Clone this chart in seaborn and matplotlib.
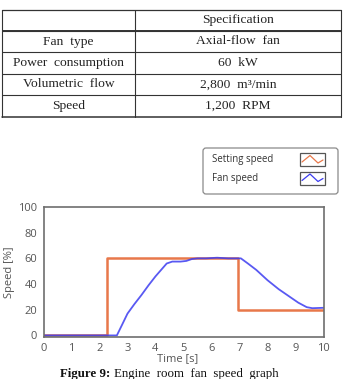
import numpy as np
import pandas as pd
import matplotlib
matplotlib.use("Agg")
import matplotlib.pyplot as plt
import seaborn as sns
from matplotlib.patches import FancyBboxPatch, Rectangle

# Table contents
TABLE_HEADER = "Specification"
TABLE_LABELS = ["Fan  type", "Power  consumption", "Volumetric  flow", "Speed"]
TABLE_VALUES = ["Axial-flow  fan", "60  kW", "2,800  m\u00b3/min", "1,200  RPM"]

# Setting speed (step profile)
SET_T = [0, 2.26, 2.26, 6.94, 6.94, 10]
SET_V = [0, 0, 60, 60, 20, 20]

# Measured fan speed
FAN_T = [0, 2.62, 2.8, 3.0, 3.25, 3.5, 3.75, 4.0, 4.2, 4.4, 4.6, 4.9, 5.1, 5.3,
         5.5, 5.8, 6.2, 6.6, 7.05, 7.3, 7.6, 8.0, 8.4, 8.8, 9.1, 9.4, 9.6, 10]
FAN_V = [0, 0, 8, 17, 24.5, 31.5, 39, 46, 51, 56, 57.5, 57.5, 58, 59.5,
         60, 60, 60.5, 60, 60, 56, 51, 43, 36, 30, 25.5, 22, 21.2, 21.5]

LEGEND_LABELS = ["Setting speed", "Fan speed"]
ORANGE = "#E8784A"
BLUE = "#3C3CF0"
GRAY = "#6e6e6e"

W, H = 343, 379
sns.set_style("white")
fig = plt.figure(figsize=(W / 100, H / 100), dpi=100)

# overlay in pixel coordinates for table, legend and caption
ov = fig.add_axes([0, 0, 1, 1])
ov.set_xlim(0, W)
ov.set_ylim(H, 0)
ov.axis("off")

serif = "Liberation Serif"
row_y = [9.5, 31, 52, 73.5, 95, 117]
xl, xm, xr = 2, 135, 341
ov.plot([xl, xr], [row_y[0], row_y[0]], color="#333333", lw=0.9)
ov.plot([xl, xr], [29.5, 29.5], color="#333333", lw=0.7)
for y in row_y[1:-1]:
    ov.plot([xl, xr], [y, y], color="#333333", lw=0.8)
ov.plot([xl, xr], [row_y[-1], row_y[-1]], color="#333333", lw=1.1)
for x in (xl, xm, xr):
    ov.plot([x, x], [row_y[0], row_y[-1]], color="#333333", lw=0.8)

ov.text((xm + xr) / 2, (row_y[0] + 29.5) / 2 + 0.5, TABLE_HEADER, ha="center",
        va="center", family=serif, fontsize=9.7, color="#222222")
for i, (lab, val) in enumerate(zip(TABLE_LABELS, TABLE_VALUES)):
    yc = (row_y[i + 1] + row_y[i + 2]) / 2
    ov.text((xl + xm) / 2, yc, lab, ha="center", va="center",
            family=serif, fontsize=9.7, color="#222222")
    ov.text((xm + xr) / 2, yc, val, ha="center", va="center",
            family=serif, fontsize=9.7, color="#222222")

# legend box drawn by hand (LabVIEW style)
ov.add_patch(FancyBboxPatch((203, 148), 135, 46, boxstyle="round,pad=0,rounding_size=3",
                            fc="white", ec="#8a8a8a", lw=0.9))
for i, (lab, col) in enumerate(zip(LEGEND_LABELS, [ORANGE, BLUE])):
    yc = 159.5 + i * 18.5
    ov.text(212, yc, lab, ha="left", va="center", family="Open Sans",
            fontsize=6.9, color="#333333")
    ov.add_patch(Rectangle((300, yc - 6.5), 25, 13, fc="white", ec="#555555", lw=0.9))
    ov.plot([302, 310, 318, 323], [yc + 2.5, yc - 4, yc + 3.5, yc + 0.5], color=col, lw=0.9)

# caption: bold label followed by plain text, placed by measuring the label
cap_y = 368
t1 = ov.text(60, cap_y, "Figure 9:", ha="left", va="top", family=serif,
             fontsize=9.3, weight="bold", color="#111111")
fig.canvas.draw()
bb = t1.get_window_extent()
x_end = bb.x1  # pixels from left at dpi 100
ov.text(x_end + 4, cap_y, "Engine  room  fan  speed  graph", ha="left", va="top",
        family=serif, fontsize=9.3, color="#111111")

# chart
ax = fig.add_axes([43.5 / W, 1 - 336.7 / H, 280 / W, 129.7 / H])
set_df = pd.DataFrame({"t": SET_T, "v": SET_V})
fan_df = pd.DataFrame({"t": FAN_T, "v": FAN_V})
sns.lineplot(data=set_df, x="t", y="v", sort=False, estimator=None,
             color=ORANGE, lw=1.8, ax=ax)
sns.lineplot(data=fan_df, x="t", y="v", sort=False, estimator=None,
             color=BLUE, lw=1.3, alpha=0.85, ax=ax)
ax.set_xlim(0, 10)
ax.set_ylim(-1, 100)
ax.set_xticks(range(0, 11))
ax.set_yticks(range(0, 101, 20))
for s in ax.spines.values():
    s.set_color(GRAY)
    s.set_linewidth(1.2)
ax.tick_params(axis="both", direction="out", length=3, width=1, color=GRAY,
               labelcolor="#555555", labelsize=8, pad=1.5)
for lab in ax.get_xticklabels() + ax.get_yticklabels():
    lab.set_family("Open Sans")
ax.set_xlabel("Time [s]", family="Open Sans", fontsize=8, color="#555555", labelpad=1.5)
ax.set_ylabel("Speed [%]", family="Open Sans", fontsize=8, color="#555555", labelpad=2)
ax.xaxis.set_label_coords(0.48, -0.13)

fig.savefig("out.png", dpi=100)
